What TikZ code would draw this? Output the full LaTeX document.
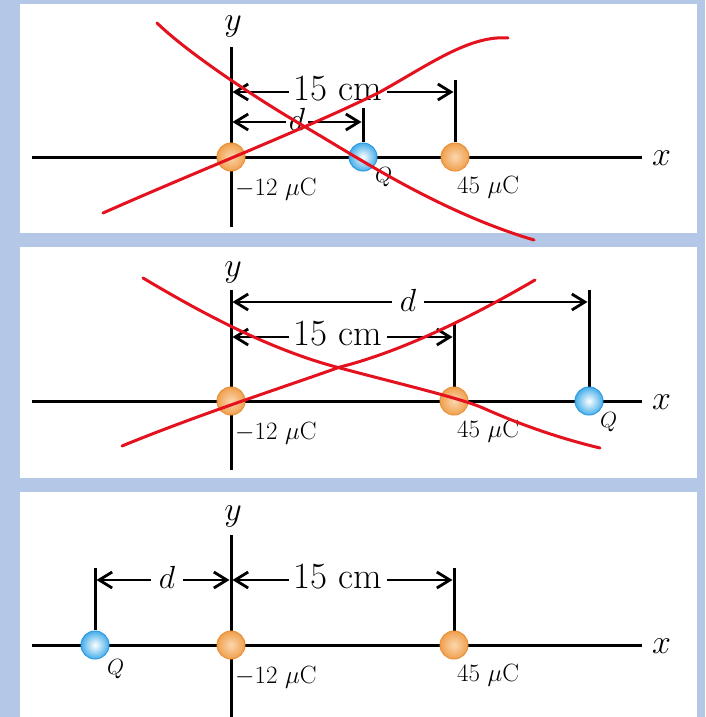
\RequirePackage{fix-cm}
\documentclass[tikz,border=0pt]{standalone}
\usetikzlibrary{arrows.meta}
\definecolor{bgblue}{HTML}{B4C7E7}
\definecolor{redx}{HTML}{E3121E}
\definecolor{orin}{HTML}{FBD7AE}
\definecolor{orout}{HTML}{F0A04E}
\definecolor{oredge}{HTML}{E8913A}
\definecolor{blout}{HTML}{45AEEA}
\definecolor{bledge}{HTML}{2E9BE0}
\tikzset{
  axisline/.style={line width=3pt},
  tickline/.style={line width=3pt},
  dimline/.style={line width=2.8pt,
    {Straight Barb[length=13pt,width=16pt,line width=2.8pt]}-{Straight Barb[length=13pt,width=16pt,line width=2.8pt]}},
  bigtxt/.style={font=\fontsize{37}{40}\selectfont, fill=white, inner xsep=5pt, inner ysep=0pt, anchor=base},
  dtxt/.style={font=\fontsize{32}{36}\selectfont, fill=white, inner xsep=5pt, inner ysep=0pt, anchor=base},
  smalltxt/.style={font=\fontsize{25}{28}\selectfont, inner sep=0pt, anchor=base west},
  qtxt/.style={font=\fontsize{22}{26}\selectfont, inner sep=0pt, anchor=base west},
  axtxt/.style={font=\fontsize{34}{38}\selectfont, inner sep=0pt},
  orangeball/.style={circle, minimum size=28pt, inner sep=0pt, draw=oredge, line width=1pt, inner color=orin, outer color=orout},
  blueball/.style={circle, minimum size=28pt, inner sep=0pt, draw=bledge, line width=1pt, inner color=white, outer color=blout},
  panel/.style={fill=white, draw=none},
  cross/.style={redx, line width=3pt, line cap=round},
}
\begin{document}
\begin{tikzpicture}[x=1pt,y=-1pt]
\fill[bgblue] (0,0) rectangle (705,717);
\useasboundingbox (0,0) rectangle (705,717);
\fill[panel] (20,4) rectangle (697,233);
\fill[panel] (20,247) rectangle (697,478);
\fill[panel] (20,492) rectangle (697,717);

% ---------- Panel 1 ----------
\coordinate (xa1) at (32,157); \coordinate (xb1) at (642,157);
\coordinate (ya1) at (231,47); \coordinate (yb1) at (231,227);
\draw[axisline] (xa1) -- (xb1);
\draw[axisline] (ya1) -- (yb1);
\node[axtxt, anchor=base west] (xl1) at (652,165) {$x$};
\node[axtxt, anchor=base] (yl1) at (233,31) {$y$};
\coordinate (t1a) at (455,80); \coordinate (t1b) at (455,142);
\coordinate (q1a) at (363,108); \coordinate (q1b) at (363,142);
\draw[tickline] (t1a) -- (t1b);
\draw[tickline] (q1a) -- (q1b);
\coordinate (d15a1) at (232.5,92); \coordinate (d15b1) at (453.5,92);
\coordinate (dda1) at (232.5,122); \coordinate (ddb1) at (361.5,122);
\draw[dimline] (d15a1) -- (d15b1);
\draw[dimline] (dda1) -- (ddb1);
\node[bigtxt] (c15a) at (338,100) {15 cm};
\node[dtxt, inner xsep=3pt] (dl1) at (297,130) {$d$};
\node[orangeball] (m1) at (231,157) {};
\node[blueball] (Q1) at (363,157) {};
\node[orangeball] (p1) at (455,157) {};
\node[smalltxt] (lm1) at (235,195) {$-12$ $\mu$C};
\node[qtxt] (lq1) at (375,182) {$Q$};
\node[smalltxt] (lp1) at (457,193) {45 $\mu$C};
\draw[cross] (157,23) .. controls (190,55) and (262,102) .. (307,128)
   .. controls (360,159) and (440,212) .. (534,240);
\draw[cross] (103,213) .. controls (200,170) and (310,127) .. (380,92)
   .. controls (430,64) and (470,35) .. (508,38);

% ---------- Panel 2 ----------
\coordinate (xa2) at (32,401); \coordinate (xb2) at (642,401);
\coordinate (ya2) at (231,290); \coordinate (yb2) at (231,470);
\draw[axisline] (xa2) -- (xb2);
\draw[axisline] (ya2) -- (yb2);
\node[axtxt, anchor=base west] (xl2) at (652,409) {$x$};
\node[axtxt, anchor=base] (yl2) at (233,276) {$y$};
\coordinate (t2a) at (454,324); \coordinate (t2b) at (454,388);
\coordinate (q2a) at (589,290); \coordinate (q2b) at (589,388);
\draw[tickline] (t2a) -- (t2b);
\draw[tickline] (q2a) -- (q2b);
\coordinate (dda2) at (232.5,302); \coordinate (ddb2) at (587.5,302);
\coordinate (d15a2) at (232.5,337); \coordinate (d15b2) at (452.5,337);
\draw[dimline] (dda2) -- (ddb2);
\draw[dimline] (d15a2) -- (d15b2);
\node[dtxt, inner xsep=8pt] (dl2) at (408,311) {$d$};
\node[bigtxt] (c15b) at (338,345) {15 cm};
\node[orangeball] (m2) at (231,401) {};
\node[orangeball] (p2) at (454,401) {};
\node[blueball] (Q2) at (589,401) {};
\node[smalltxt] (lm2) at (235,439) {$-12$ $\mu$C};
\node[smalltxt] (lp2) at (457,437) {45 $\mu$C};
\node[qtxt] (lq2) at (600,427) {$Q$};
\draw[cross] (143,278) .. controls (200,312) and (270,350) .. (340,368)
   .. controls (400,384) and (460,398) .. (483,408)
   .. controls (510,420) and (550,436) .. (600,448);
\draw[cross] (122,446) .. controls (200,414) and (290,385) .. (340,367)
   .. controls (400,352) and (470,318) .. (535,280);

% ---------- Panel 3 ----------
\coordinate (xa3) at (32,645); \coordinate (xb3) at (642,645);
\coordinate (ya3) at (231,535); \coordinate (yb3) at (231,717);
\draw[axisline] (xa3) -- (xb3);
\draw[axisline] (ya3) -- (yb3);
\node[axtxt, anchor=base west] (xl3) at (652,653) {$x$};
\node[axtxt, anchor=base] (yl3) at (233,520) {$y$};
\coordinate (t3a) at (95,568); \coordinate (t3b) at (95,630);
\coordinate (u3a) at (454,568); \coordinate (u3b) at (454,632);
\draw[tickline] (t3a) -- (t3b);
\draw[tickline] (u3a) -- (u3b);
\coordinate (dda3) at (96.5,580); \coordinate (ddb3) at (229.5,580);
\coordinate (d15a3) at (232.5,580); \coordinate (d15b3) at (452.5,580);
\draw[dimline] (dda3) -- (ddb3);
\draw[dimline] (d15a3) -- (d15b3);
\node[dtxt, inner xsep=8pt] (dl3) at (167,588) {$d$};
\node[bigtxt] (c15c) at (338,588) {15 cm};
\node[blueball] (Q3) at (95,645) {};
\node[orangeball] (m3) at (231,645) {};
\node[orangeball] (p3) at (454,645) {};
\node[qtxt] (lq3) at (107,674) {$Q$};
\node[smalltxt] (lm3) at (235,683) {$-12$ $\mu$C};
\node[smalltxt] (lp3) at (457,681) {45 $\mu$C};
\end{tikzpicture}
\end{document}
